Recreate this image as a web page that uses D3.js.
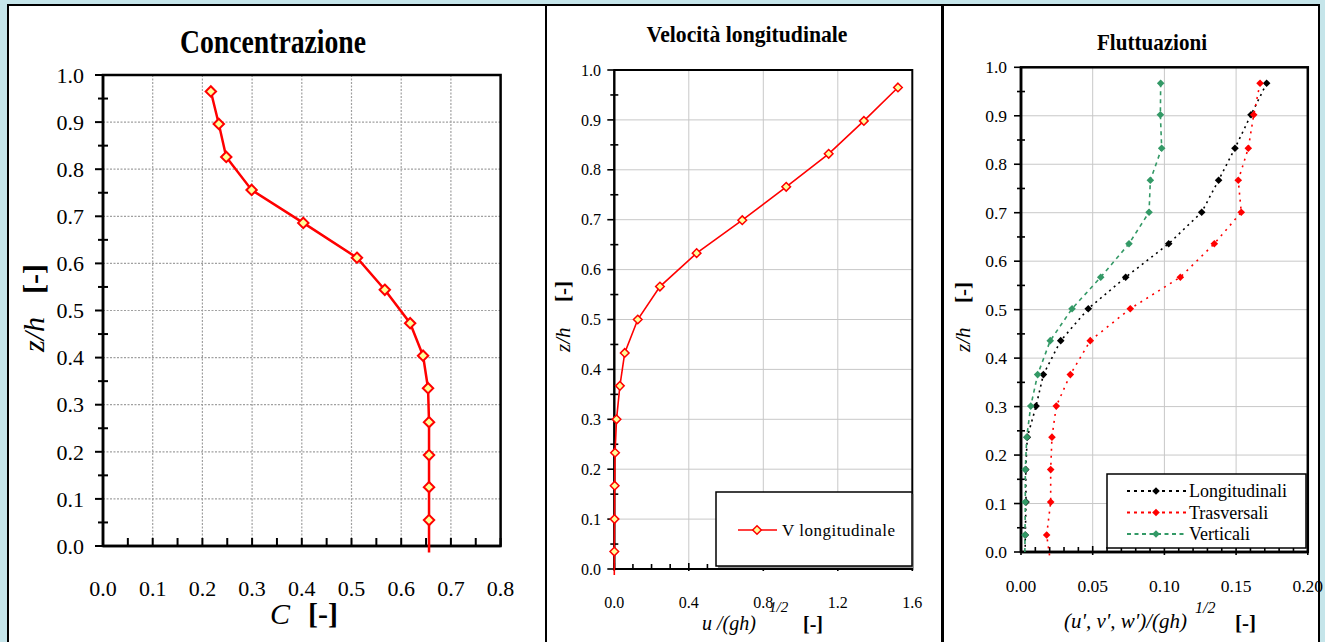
<!DOCTYPE html>
<html><head><meta charset="utf-8">
<script src="https://cdn.jsdelivr.net/npm/d3@7"></script>
<style>
html,body{margin:0;padding:0;background:#c5e5ea;}
svg{display:block;}
text{font-family:"Liberation Serif","Times New Roman",serif;fill:#000;}
</style></head><body>
<svg id="c" width="1325" height="642"></svg>
<script>
// ---------- DATA ----------
// Panel 1: Concentrazione
const concZ = [0.965,0.896,0.826,0.756,0.686,0.612,0.544,0.473,0.404,0.335,0.263,0.193,0.125,0.055];
const concC = [0.217,0.233,0.248,0.299,0.403,0.511,0.567,0.618,0.644,0.654,0.656,0.656,0.656,0.656];
const concTail = [0.656,-0.014];
const concXTicks = [0,0.1,0.2,0.3,0.4,0.5,0.6,0.7,0.8];
const concYTicks = [0,0.1,0.2,0.3,0.4,0.5,0.6,0.7,0.8,0.9,1.0];
// Panel 2: Velocita longitudinale
const velZ = [0.965,0.898,0.832,0.766,0.699,0.633,0.566,0.500,0.433,0.367,0.300,0.233,0.167,0.100,0.035];
const velU = [1.523,1.340,1.151,0.923,0.687,0.442,0.245,0.126,0.056,0.030,0.012,0.004,0.002,0.001,0.000];
const velTail = [0.0,-0.012];
const velXTicks = [0,0.4,0.8,1.2,1.6];
const velYTicks = [0,0.1,0.2,0.3,0.4,0.5,0.6,0.7,0.8,0.9,1.0];
// Panel 3: Fluttuazioni
const flZ = [0.967,0.902,0.833,0.767,0.701,0.636,0.567,0.502,0.436,0.366,0.301,0.237,0.170,0.103,0.035];
const flLong = [0.1713,0.1604,0.1492,0.1378,0.1260,0.1030,0.0730,0.0469,0.0277,0.0156,0.0105,0.0044,0.0033,0.0035,0.0030];
const flTrasv = [0.1667,0.1623,0.1585,0.1515,0.1536,0.1348,0.1111,0.0762,0.0483,0.0344,0.0246,0.0216,0.0207,0.0207,0.0179];
const flVert = [0.0974,0.0972,0.0981,0.0902,0.0893,0.0753,0.0556,0.0356,0.0204,0.0116,0.0068,0.0040,0.0030,0.0030,0.0028];
const flTailZ = -0.03;
const flTails = [0.0028,0.021,0.0026];
const flNames = ["Longitudinali","Trasversali","Verticali"];
const flXTicks = [0,0.05,0.10,0.15,0.20];
const flYTicks = [0,0.1,0.2,0.3,0.4,0.5,0.6,0.7,0.8,0.9,1.0];

// ---------- DRAW ----------
const svg = d3.select("#c");
// panel frames
[[8,5,538],[546,5,396],[943,5,376]].forEach(([x,y,w])=>{
  svg.append("rect").attr("x",x).attr("y",y).attr("width",w).attr("height",700)
    .attr("fill","#fff").attr("stroke","#000").attr("stroke-width",2);
});
const diamond = r => `M0,${-r}L${r},0L0,${r}L${-r},0Z`;
let clipN = 0;

function panel(o){
  const x = d3.scaleLinear().domain(o.xd).range(o.xr);
  const y = d3.scaleLinear().domain([0,1]).range(o.yr);
  const g = svg.append("g");
  const [X0,X1] = o.xr, [Y0,Y1] = o.yr;
  // grid
  o.gridX.forEach(v=>g.append("line").attr("x1",x(v)).attr("x2",x(v)).attr("y1",Y0).attr("y2",Y1)
     .attr("stroke",o.gridColor).attr("stroke-width",o.gridW).attr("stroke-dasharray",o.gridDash));
  o.gridY.forEach(v=>g.append("line").attr("x1",X0).attr("x2",X1).attr("y1",y(v)).attr("y2",y(v))
     .attr("stroke",o.gridColor).attr("stroke-width",o.gridW).attr("stroke-dasharray",o.gridDash));
  // frame (top/right)
  g.append("rect").attr("x",X0).attr("y",Y1).attr("width",X1-X0).attr("height",Y0-Y1)
    .attr("fill","none").attr("stroke","#000").attr("stroke-width",o.frameW);
  // y ticks
  d3.range(0,1.0001,0.05).forEach((v,i)=>{
    const major = i%2===0;
    g.append("line").attr("x1",major?X0-o.yMaj:X0-o.yMin).attr("x2",major?X0:X0+o.yMin)
      .attr("y1",y(v)).attr("y2",y(v)).attr("stroke","#000").attr("stroke-width",o.tickW);
  });
  // x ticks
  const n = Math.round((o.xd[1]-o.xd[0])/o.xMinStep);
  d3.range(0,n+1).forEach(i=>{
    const v = o.xd[0]+i*o.xMinStep;
    const major = i % o.xMajEvery === 0;
    g.append("line").attr("x1",x(v)).attr("x2",x(v))
      .attr("y1",major?Y0+o.xMajDown:Y0).attr("y2",Y0-(major?o.xMajUp:o.xMinUp))
      .attr("stroke","#000").attr("stroke-width",o.tickW);
  });
  // axis lines
  g.append("line").attr("x1",X0).attr("x2",X1).attr("y1",Y0).attr("y2",Y0).attr("stroke","#000").attr("stroke-width",o.frameW);
  g.append("line").attr("x1",X0).attr("x2",X0).attr("y1",Y0).attr("y2",Y1).attr("stroke","#000").attr("stroke-width",o.frameW);
  // tick labels
  o.yTicks.forEach(v=>g.append("text").attr("x",o.yLabX).attr("y",y(v)).attr("dy","0.35em")
     .attr("text-anchor","end").attr("font-size",o.tickFs).text(v.toFixed(1)));
  o.xTicks.forEach(v=>g.append("text").attr("x",x(v)).attr("y",o.xLabY)
     .attr("text-anchor","middle").attr("font-size",o.tickFs).text(v.toFixed(o.xDec)));
  // clip
  const id = "clip"+(clipN++);
  svg.append("clipPath").attr("id",id).append("rect").attr("x",X0-10).attr("y",Y1-10)
     .attr("width",X1-X0+20).attr("height",Y0-Y1+10+o.clipBelow);
  const data = g.append("g").attr("clip-path",`url(#${id})`);
  return {x,y,g,data};
}

// ---- Panel 1 ----
{
  const p = panel({xd:[0,0.8], xr:[103,500.6], yr:[546,75],
    gridX:[0.1,0.2,0.3,0.4,0.5,0.6,0.7], gridY:[0.1,0.2,0.3,0.4,0.5,0.6,0.7,0.8,0.9],
    gridColor:"#a0a0a0", gridW:1.2, gridDash:"2,1.5", frameW:2.5, tickW:2,
    yMaj:8, yMin:5, xMinStep:0.05, xMajEvery:2, xMajUp:8, xMinUp:8, xMajDown:0,
    yTicks:concYTicks, xTicks:concXTicks, yLabX:84, xLabY:596, tickFs:22, xDec:1, clipBelow:7});
  const pts = concC.map((c,i)=>[c,concZ[i]]);
  p.data.append("path").datum(pts.concat([concTail]))
    .attr("d",d3.line().x(d=>p.x(d[0])).y(d=>p.y(d[1])))
    .attr("fill","none").attr("stroke","#ff0000").attr("stroke-width",2.5);
  p.data.selectAll(".m").data(pts).enter().append("path")
    .attr("d",diamond(5.2)).attr("transform",d=>`translate(${p.x(d[0])},${p.y(d[1])})`)
    .attr("fill","#ffff99").attr("stroke","#ff0000").attr("stroke-width",2);
  svg.append("text").attr("x",273).attr("y",53).attr("text-anchor","middle").attr("font-weight","bold")
    .attr("font-size",33).attr("textLength",186).attr("lengthAdjust","spacingAndGlyphs").text("Concentrazione");
  svg.append("text").attr("x",280).attr("y",624).attr("text-anchor","middle").attr("font-style","italic").attr("font-size",30).text("C");
  svg.append("text").attr("x",323).attr("y",624).attr("text-anchor","middle").attr("font-weight","bold").attr("font-size",30).text("[-]");
  svg.append("text").attr("transform","translate(44,352) rotate(-90)").attr("font-style","italic").attr("font-size",30).text("z/h");
  svg.append("text").attr("transform","translate(44,294) rotate(-90)").attr("font-weight","bold").attr("font-size",30).text("[-]");
}

// ---- Panel 2 ----
{
  const p = panel({xd:[0,1.6], xr:[614.3,912.3], yr:[569,70],
    gridX:[0.4,0.8,1.2], gridY:[0.1,0.2,0.3,0.4,0.5,0.6,0.7,0.8,0.9],
    gridColor:"#c8c8c8", gridW:1, gridDash:null, frameW:2, tickW:1.6,
    yMaj:7, yMin:4, xMinStep:0.1, xMajEvery:4, xMajUp:6, xMinUp:5, xMajDown:2,
    yTicks:velYTicks, xTicks:velXTicks, yLabX:601, xLabY:608, tickFs:16, xDec:1, clipBelow:6});
  const pts = velU.map((u,i)=>[u,velZ[i]]);
  p.data.append("path").datum(pts.concat([velTail]))
    .attr("d",d3.line().x(d=>p.x(d[0])).y(d=>p.y(d[1])))
    .attr("fill","none").attr("stroke","#ff0000").attr("stroke-width",1.6);
  p.data.selectAll(".m").data(pts).enter().append("path")
    .attr("d",diamond(4.3)).attr("transform",d=>`translate(${p.x(d[0])},${p.y(d[1])})`)
    .attr("fill","#ffff99").attr("stroke","#ff0000").attr("stroke-width",1.5);
  // legend
  const lg = svg.append("g");
  lg.append("rect").attr("x",718).attr("y",494).attr("width",196).attr("height",74).attr("fill","#999");
  lg.append("rect").attr("x",716).attr("y",492).attr("width",196).attr("height",74).attr("fill","#fff").attr("stroke","#000").attr("stroke-width",1.5);
  lg.append("line").attr("x1",738).attr("x2",777).attr("y1",530).attr("y2",530).attr("stroke","#ff0000").attr("stroke-width",1.6);
  lg.append("path").attr("d",diamond(4.3)).attr("transform","translate(757,530)").attr("fill","#ffff99").attr("stroke","#ff0000").attr("stroke-width",1.5);
  lg.append("text").attr("x",782).attr("y",536).attr("font-size",17).attr("textLength",113).text("V longitudinale");
  svg.append("text").attr("x",747).attr("y",42).attr("text-anchor","middle").attr("font-weight","bold")
    .attr("font-size",23).attr("textLength",201).attr("lengthAdjust","spacingAndGlyphs").text("Velocità longitudinale");
  const xl = svg.append("text").attr("x",702).attr("y",630).attr("font-size",20);
  xl.append("tspan").attr("font-style","italic").text("u /(gh)");
  svg.append("text").attr("x",769).attr("y",612).attr("font-size",15).attr("font-style","italic").text("1/2");
  svg.append("text").attr("x",803).attr("y",631).attr("font-size",20).attr("font-weight","bold").text("[-]");
  svg.append("text").attr("transform","translate(570,352) rotate(-90)").attr("font-style","italic").attr("font-size",21).text("z/h");
  svg.append("text").attr("transform","translate(570,302) rotate(-90)").attr("font-weight","bold").attr("font-size",21).text("[-]");
}

// ---- Panel 3 ----
{
  const p = panel({xd:[0,0.2], xr:[1021,1307.8], yr:[552,67.3],
    gridX:[0.05,0.10,0.15], gridY:[0.1,0.2,0.3,0.4,0.5,0.6,0.7,0.8,0.9],
    gridColor:"#c8c8c8", gridW:1, gridDash:null, frameW:2.5, tickW:1.6,
    yMaj:7, yMin:4, xMinStep:0.01, xMajEvery:5, xMajUp:6, xMinUp:5, xMajDown:3,
    yTicks:flYTicks, xTicks:flXTicks, yLabX:1007, xLabY:592, tickFs:17.5, xDec:2, clipBelow:4});
  const series = [flLong, flTrasv, flVert];
  const colors = ["#000000","#ff0000","#339966"];
  const dashes = ["2,4","2,5","4,4"];
  series.forEach((s,k)=>{
    const pts = s.map((u,i)=>[u,flZ[i]]);
    p.data.append("path").datum(pts.concat([[flTails[k],flTailZ]]))
      .attr("d",d3.line().x(d=>p.x(d[0])).y(d=>p.y(d[1])))
      .attr("fill","none").attr("stroke",colors[k]).attr("stroke-width",1.6).attr("stroke-dasharray",dashes[k]);
    p.data.selectAll(".m"+k).data(pts).enter().append("path")
      .attr("d",diamond(3.8)).attr("transform",d=>`translate(${p.x(d[0])},${p.y(d[1])})`)
      .attr("fill",colors[k]);
  });
  const lg = svg.append("g");
  lg.append("rect").attr("x",1107).attr("y",474).attr("width",199).attr("height",74).attr("fill","#fff").attr("stroke","#000").attr("stroke-width",1.5);
  flNames.forEach((nm,k)=>{
    const yy = 491 + k*21.5;
    lg.append("line").attr("x1",1127).attr("x2",1187).attr("y1",yy).attr("y2",yy)
      .attr("stroke",colors[k]).attr("stroke-width",2).attr("stroke-dasharray",k===2?"4,3.5":"3,4");
    lg.append("path").attr("d",diamond(3.8)).attr("transform",`translate(1156,${yy})`).attr("fill",colors[k]);
    lg.append("text").attr("x",1189).attr("y",yy+6).attr("font-size",18).text(nm);
  });
  svg.append("text").attr("x",1152).attr("y",50).attr("text-anchor","middle").attr("font-weight","bold")
    .attr("font-size",24).attr("textLength",110).attr("lengthAdjust","spacingAndGlyphs").text("Fluttuazioni");
  svg.append("text").attr("x",1064).attr("y",628).attr("font-size",21).attr("font-style","italic").text("(u', v', w')/(gh)");
  svg.append("text").attr("x",1195).attr("y",613).attr("font-size",16).attr("font-style","italic").text("1/2");
  svg.append("text").attr("x",1235).attr("y",630).attr("font-size",21).attr("font-weight","bold").text("[-]");
  svg.append("text").attr("transform","translate(970,352) rotate(-90)").attr("font-style","italic").attr("font-size",21).text("z/h");
  svg.append("text").attr("transform","translate(970,303) rotate(-90)").attr("font-weight","bold").attr("font-size",21).text("[-]");
}
</script>
</body></html>
